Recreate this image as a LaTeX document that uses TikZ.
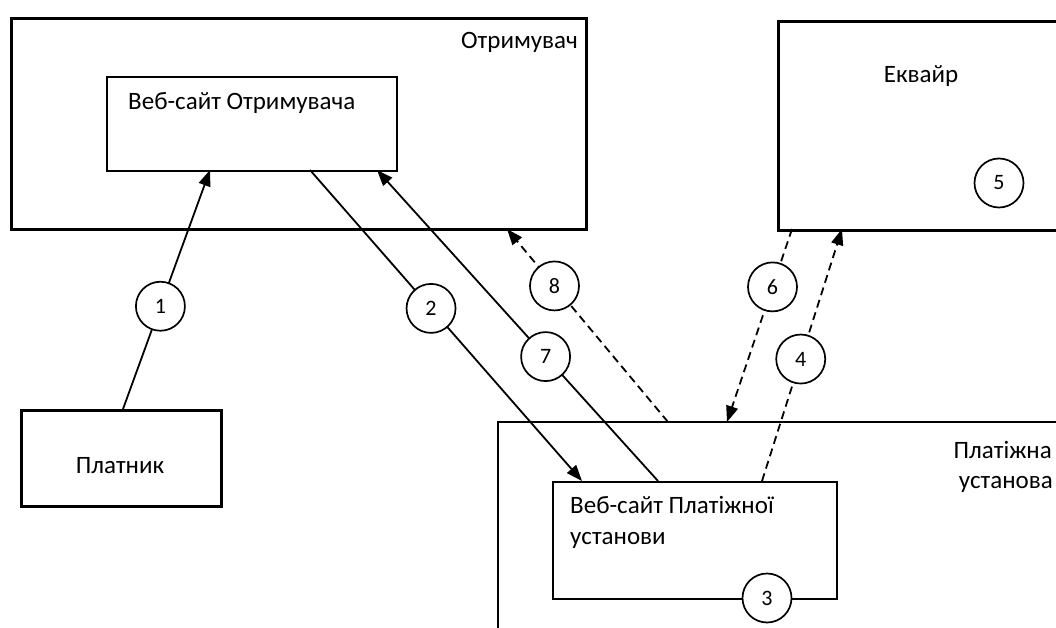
\documentclass[tikz,border=0pt]{standalone}
\usepackage{fontspec}
\setmainfont{Carlito}
\usetikzlibrary{arrows.meta}
\begin{document}
\begin{tikzpicture}[x=1pt,y=-1pt,
  outerbox/.style={draw, line width=3.2pt, inner sep=0pt, anchor=north west},
  thinbox/.style={draw, line width=1.7pt, inner sep=0pt, anchor=north west},
  lbl/.style={font=\fontsize{25}{30}\selectfont, inner sep=0pt},
  num/.style={circle, draw, line width=1.7pt, fill=white, minimum size=49pt, inner sep=0pt, font=\fontsize{22}{24}\selectfont},
  flow/.style={line width=1.8pt},
  arr/.style={flow, -{Triangle[length=16pt,width=12pt]}},
  dashflow/.style={flow, dash pattern=on 8pt off 5pt},
]
\useasboundingbox (0,0) rectangle (1056,628);
\clip (0,0) rectangle (1056,628);

% Отримувач
\node[outerbox, minimum width=575pt, minimum height=211pt] (otr) at (10,17) {};
\node[lbl, anchor=east] (otrt) at (578,42) {Отримувач};
\node[thinbox, minimum width=290pt, minimum height=94pt] (web1) at (106,76) {};
\node[lbl, anchor=west] (web1t) at (128,103) {Веб-сайт Отримувача};

% Еквайр
\node[outerbox, minimum width=300pt, minimum height=209pt] (ekv) at (777,20) {};
\node[lbl] (ekvt) at (921,76) {Еквайр};
\node[num] (n5) at (999,183) {5};

% Платник
\node[outerbox, minimum width=200pt, minimum height=96pt] (plat) at (20,409) {};
\node[lbl] (platt) at (120,466) {Платник};

% Платіжна установа
\node[thinbox, minimum width=620pt, minimum height=260pt] (pu) at (497,421) {};
\node[lbl, anchor=east] (put1) at (1052,450) {Платіжна};
\node[lbl, anchor=east] (put2) at (1053,484) {установа};
\node[thinbox, minimum width=284pt, minimum height=117pt] (web2) at (552,481) {};
\node[lbl, anchor=west] (web2t1) at (570,505) {Веб-сайт Платіжної};
\node[lbl, anchor=west] (web2t2) at (570,540) {установи};
\node[num] (n3) at (767,598) {3};

% connector end points
\coordinate (a1) at (123,409); \coordinate (b1) at (210,170);
\coordinate (a2) at (310,170); \coordinate (b2) at (582,481);
\coordinate (a7) at (658,481); \coordinate (b7) at (377,170);
\coordinate (a8) at (668,422); \coordinate (b8) at (507,229);
\coordinate (a6) at (792,229); \coordinate (b6) at (727,422);
\coordinate (a4) at (762,481); \coordinate (b4) at (842,229);

\draw[arr] (a1) -- node[num, pos=0.43] (n1) {1} (b1);
\draw[arr] (a2) -- node[num, pos=0.445] (n2) {2} (b2);
\draw[arr] (a7) -- node[num, pos=0.40] (n7) {7} (b7);
\draw[arr, dashflow] (a8) -- node[num, solid, pos=0.705] (n8) {8} (b8);
\draw[arr, dashflow] (a6) -- node[num, solid, pos=0.30] (n6) {6} (b6);
\draw[arr, dashflow] (a4) -- node[num, solid, pos=0.484] (n4) {4} (b4);
\end{tikzpicture}
\end{document}
